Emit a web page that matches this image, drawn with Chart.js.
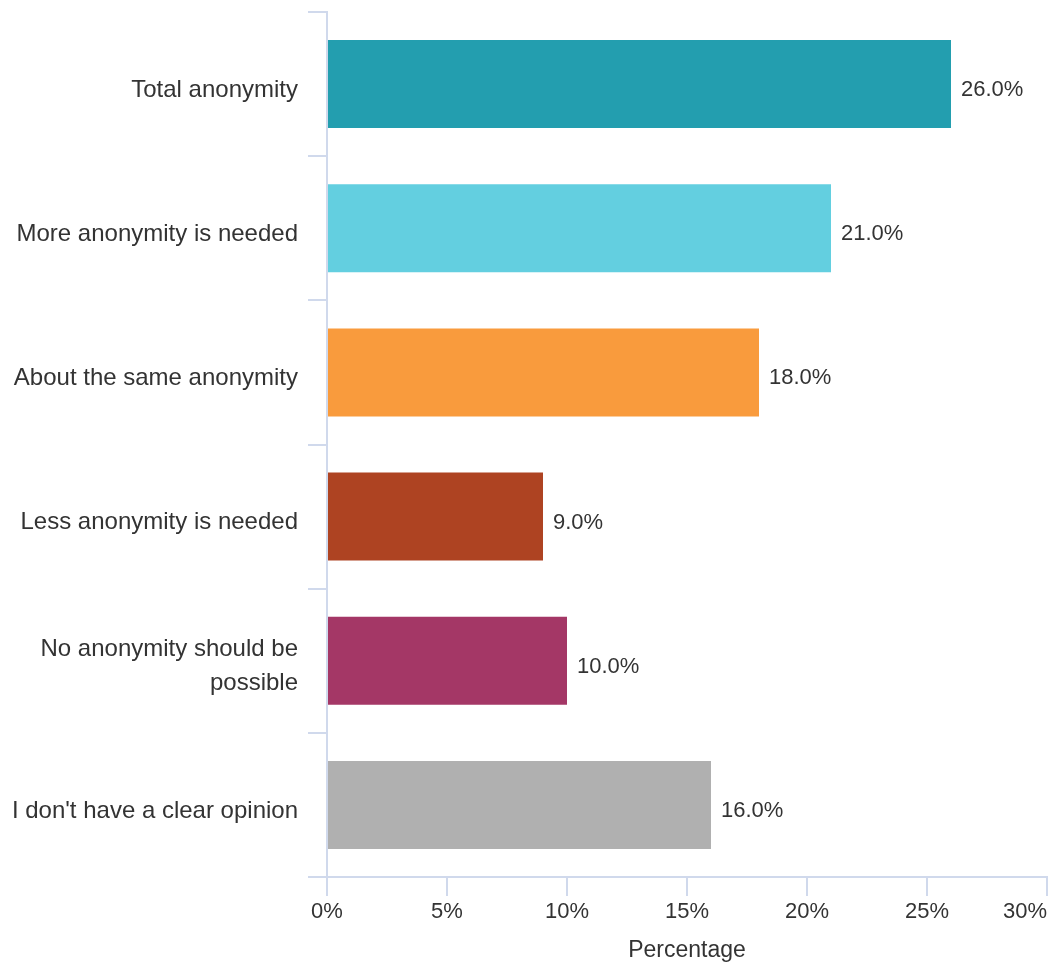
<!DOCTYPE html>
<html>
<head>
<meta charset="utf-8">
<script src="https://cdn.jsdelivr.net/npm/chart.js@4.4.1/dist/chart.umd.min.js"></script>
<style>
    html, body { margin: 0; padding: 0; background: #fff; }
    #wrap { width: 1050px; height: 964px; }
</style>
</head>
<body>
<div id="wrap"><canvas id="chart" width="1050" height="964"></canvas></div>
<script>
const CATEGORIES = [
    'Total anonymity',
    'More anonymity is needed',
    'About the same anonymity',
    'Less anonymity is needed',
    ['No anonymity should be', 'possible'],
    "I don't have a clear opinion",
];
const PERCENTAGES = [26, 21, 18, 9, 10, 16];
const BAR_COLORS = ['#239eaf', '#63cfe0', '#f99b3d', '#ae4322', '#a43766', '#b0b0b0'];
const X_TICKS = [0, 5, 10, 15, 20, 25, 30];
const X_TITLE = 'Percentage';

const FONT = '"Liberation Sans", Arial, sans-serif';
const AXIS = '#d0d9ec';
const TEXT = '#333333';

// value text at the end of each bar
const valueLabels = {
    id: 'valueLabels',
    afterDatasetsDraw(chart) {
        const { ctx } = chart;
        const meta = chart.getDatasetMeta(0);
        ctx.save();
        ctx.font = `22px ${FONT}`;
        ctx.fillStyle = TEXT;
        ctx.textAlign = 'left';
        ctx.textBaseline = 'middle';
        meta.data.forEach((bar, i) => {
            ctx.fillText(`${PERCENTAGES[i].toFixed(1)}%`, bar.x + 10, bar.y + 6);
        });
        ctx.restore();
    },
};

// x tick labels (last one kept inside the canvas) and the axis title
const xAxisText = {
    id: 'xAxisText',
    afterDraw(chart) {
        const { ctx } = chart;
        const scale = chart.scales.x;
        ctx.save();
        ctx.font = `22px ${FONT}`;
        ctx.fillStyle = TEXT;
        ctx.textBaseline = 'middle';
        X_TICKS.forEach((v) => {
            const px = scale.getPixelForValue(v);
            const txt = `${v}%`;
            const w = ctx.measureText(txt).width;
            ctx.textAlign = px + w / 2 > chart.width ? 'right' : 'center';
            ctx.fillText(txt, px, scale.top + 35);
        });
        ctx.font = `23px ${FONT}`;
        ctx.textAlign = 'center';
        ctx.fillText(X_TITLE, (scale.left + scale.right) / 2, scale.top + 74);
        ctx.restore();
    },
};

new Chart(document.getElementById('chart'), {
    type: 'bar',
    data: {
        labels: CATEGORIES,
        datasets: [{
            data: PERCENTAGES,
            backgroundColor: BAR_COLORS,
            borderWidth: 0,
            categoryPercentage: 1,
            barPercentage: 0.61,
        }],
    },
    options: {
        responsive: false,
        animation: false,
        indexAxis: 'y',
        layout: { padding: { top: 12, right: 3, left: 0, bottom: 0 } },
        plugins: { legend: { display: false }, tooltip: { enabled: false } },
        scales: {
            x: {
                min: 0,
                max: 30,
                afterBuildTicks: (s) => { s.ticks = X_TICKS.map((v) => ({ value: v })); },
                afterFit: (s) => { s.height = 87; s.paddingLeft = 0; s.paddingRight = 0; },
                ticks: { display: false },
                grid: { drawOnChartArea: false, tickLength: 19, color: AXIS, lineWidth: 2 },
                border: { color: AXIS, width: 2 },
            },
            y: {
                afterFit: (s) => { s.width = 327; s.paddingTop = 0; s.paddingBottom = 0; },
                ticks: {
                    color: TEXT,
                    font: { family: FONT, size: 24, lineHeight: 1.42 },
                    padding: 10,
                    labelOffset: 6,
                },
                grid: { drawOnChartArea: false, offset: true, tickLength: 19, color: AXIS, lineWidth: 2 },
                border: { color: AXIS, width: 2 },
            },
        },
    },
    plugins: [valueLabels, xAxisText],
});
</script>
</body>
</html>
